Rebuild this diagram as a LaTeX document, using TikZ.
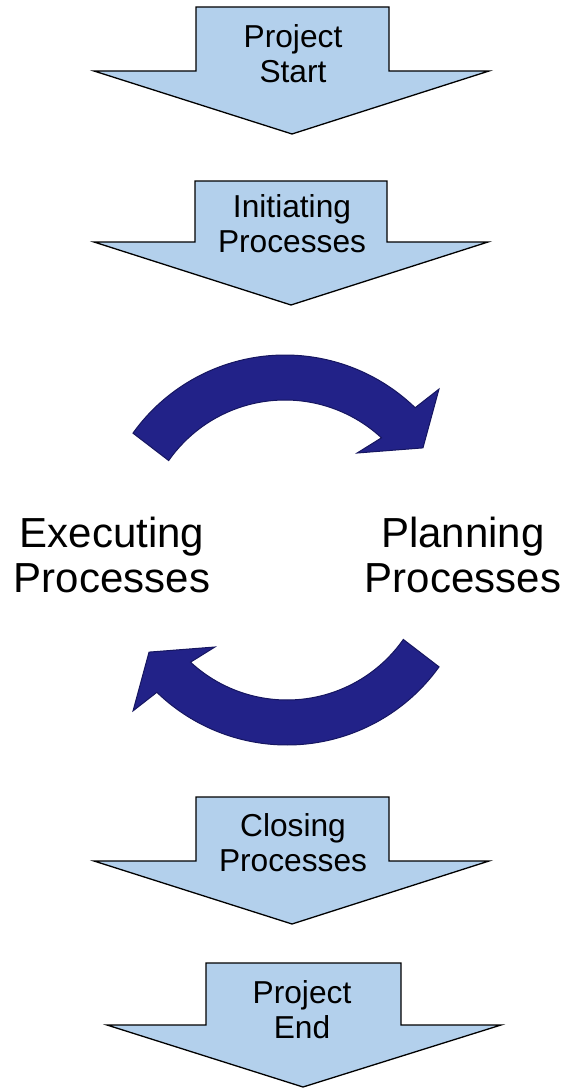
\documentclass[tikz,border=0pt]{standalone}
\usepackage{fontspec}
\setmainfont{Liberation Sans}
\definecolor{lblue}{RGB}{179,208,236}
\definecolor{navyfill}{RGB}{34,34,136}
\definecolor{navyline}{RGB}{22,22,96}
\begin{document}
\begin{tikzpicture}[x=1pt,y=-1pt,
  blockarrow/.style={fill=lblue, draw=black, line width=1.3pt, line join=miter},
  curvedarrow/.style={fill=navyfill, draw=navyline, line width=1pt, line join=miter},
  smalltext/.style={font=\fontsize{31.7}{35}\selectfont, align=center, inner sep=0pt},
  bigtext/.style={font=\fontsize{42}{45}\selectfont, align=center, inner sep=0pt}]
\useasboundingbox (0,0) rectangle (565,1089);

% block arrows
\draw[blockarrow] (196,7) -- (389,7) -- (389,71) -- (489,71) -- (292,134) -- (94,71) -- (196,71) -- cycle;
\draw[blockarrow] (195,181) -- (387,181) -- (387,242) -- (488,242) -- (291,305) -- (94,242) -- (195,242) -- cycle;
\draw[blockarrow] (196,797) -- (389,797) -- (389,861) -- (489,861) -- (292,924) -- (94,861) -- (196,861) -- cycle;
\draw[blockarrow] (206,963) -- (401,963) -- (401,1025) -- (501,1025) -- (303,1087) -- (107,1025) -- (206,1025) -- cycle;

% curved arrows
\begin{scope}[shift={(285,542)}, x=1pt, y=1pt]
\draw[curvedarrow] (144.4:187) arc[start angle=144.4, end angle=45.9, radius=187pt]
  -- (44.8:217) -- (34.3:167) -- (51:114.5) -- (47.2:142)
  arc[start angle=47.2, end angle=145, radius=142pt] -- cycle;
\end{scope}
\begin{scope}[shift={(287,558)}, rotate=180, x=1pt, y=1pt]
\draw[curvedarrow] (144.4:187) arc[start angle=144.4, end angle=45.9, radius=187pt]
  -- (44.8:217) -- (34.3:167) -- (51:114.5) -- (47.2:142)
  arc[start angle=47.2, end angle=145, radius=142pt] -- cycle;
\end{scope}

% texts
\node[smalltext] (start) at (293,53.5) {Project\\Start};
\node[smalltext] (init) at (292,224) {Initiating\\Processes};
\node[bigtext] (exec) at (112,554.5) {Executing\\Processes};
\node[bigtext] (plan) at (463,554.5) {Planning\\Processes};
\node[smalltext] (close) at (293,843) {Closing\\Processes};
\node[smalltext] (end) at (302,1009.5) {Project\\End};
\end{tikzpicture}
\end{document}
